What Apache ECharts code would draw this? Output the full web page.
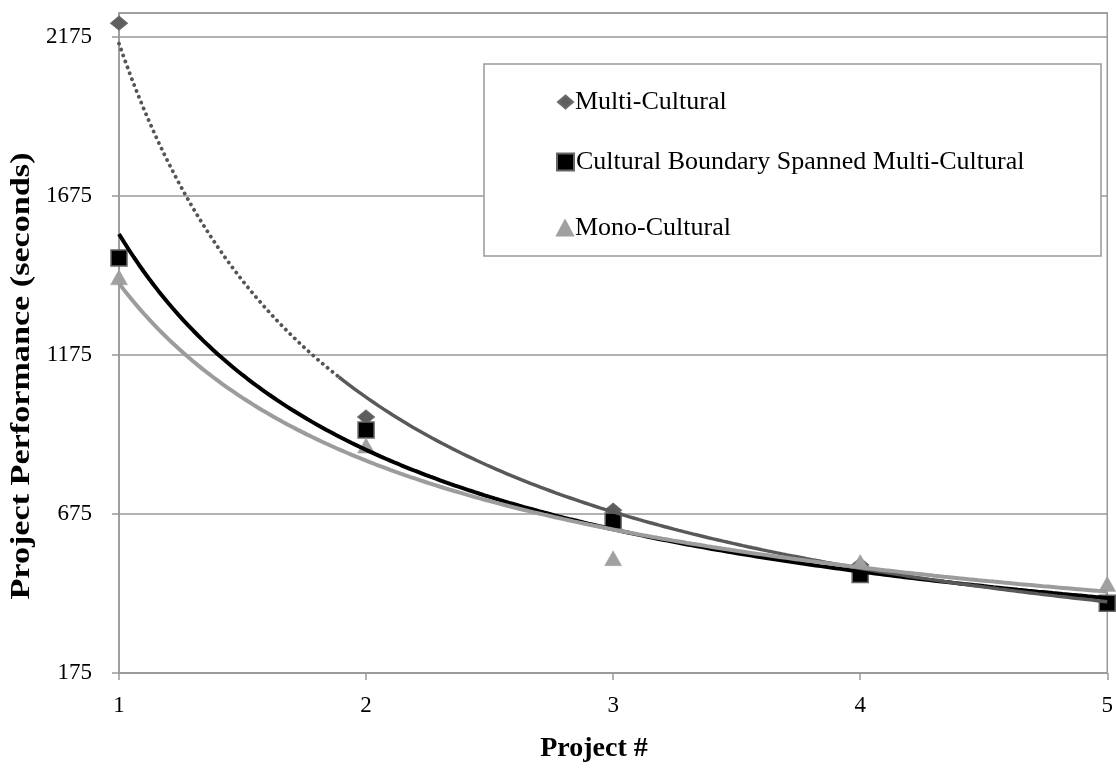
<!DOCTYPE html>
<html><head><meta charset="utf-8">
<script src="https://cdn.jsdelivr.net/npm/echarts@6/dist/echarts.min.js"></script>
<style>html,body{margin:0;padding:0;background:#fff}#c{width:1116px;height:768px}</style>
</head><body><div id="c"></div>
<script>
// ---- data ----
const projects = [1, 2, 3, 4, 5];
const multiCultural = [2218, 980, 687, 515, 400];
const boundarySpanned = [1480, 939, 653, 485, 394];
const monoCultural = [1419, 890, 536, 524, 455];
const yTicks = [175, 675, 1175, 1675, 2175];
const seriesNames = ['Multi-Cultural', 'Cultural Boundary Spanned Multi-Cultural', 'Mono-Cultural'];
const multiDottedEnd = 1.89; // x where the Multi-Cultural trendline turns from dotted to solid

// power trendline (least squares on ln-ln), as Excel does
function powerFit(xs, ys) {
  const lx = xs.map(Math.log), ly = ys.map(Math.log);
  const n = xs.length;
  const mx = lx.reduce((a, b) => a + b, 0) / n, my = ly.reduce((a, b) => a + b, 0) / n;
  let sxy = 0, sxx = 0;
  for (let i = 0; i < n; i++) { sxy += (lx[i] - mx) * (ly[i] - my); sxx += (lx[i] - mx) ** 2; }
  const b = sxy / sxx, a = Math.exp(my - b * mx);
  return x => a * Math.pow(x, b);
}
function sampleFit(f, x0, x1) {
  const pts = [];
  const steps = Math.max(2, Math.round((x1 - x0) / 0.02));
  for (let i = 0; i <= steps; i++) { const x = x0 + (x1 - x0) * i / steps; pts.push([x, f(x)]); }
  return pts;
}
const fMulti = powerFit(projects, multiCultural);
const fBound = powerFit(projects, boundarySpanned);
const fMono = powerFit(projects, monoCultural);
const xMin = projects[0], xMax = projects[projects.length - 1];

const FONT = '"Liberation Serif", "Times New Roman", serif';
const pairs = ys => projects.map((x, i) => [x, ys[i]]);

const chart = echarts.init(document.getElementById('c'), null, { renderer: 'canvas' });
chart.setOption({
  animation: false,
  backgroundColor: '#fff',
  grid: { left: 119, right: 8, top: 13, bottom: 95, show: true, borderColor: '#999', borderWidth: 1.5, backgroundColor: 'transparent' },
  xAxis: {
    type: 'value', min: xMin, max: xMax, interval: 1,
    axisLine: { show: true, lineStyle: { color: '#999', width: 1.5 } },
    axisTick: { show: true, length: 7, lineStyle: { color: '#999', width: 1.5 } },
    splitLine: { show: false },
    axisLabel: { color: '#000', fontFamily: FONT, fontSize: 23, margin: 21 }
  },
  yAxis: {
    type: 'value', min: yTicks[0], max: 2250, interval: yTicks[1] - yTicks[0],
    axisLine: { show: true, lineStyle: { color: '#999', width: 1.5 } },
    axisTick: { show: true, length: 7, lineStyle: { color: '#999', width: 1.5 } },
    splitLine: { show: true, lineStyle: { color: '#999', width: 1.5 } },
    axisLabel: { color: '#000', fontFamily: FONT, fontSize: 23, margin: 27, showMaxLabel: false,
      formatter: v => String(v) }
  },
  legend: [
    { data: [{ name: seriesNames[0], icon: 'diamond' }], left: 552, top: 84, itemWidth: 15, itemHeight: 13, itemGap: 0,
      textStyle: { fontFamily: FONT, fontSize: 26, color: '#000', padding: [0, 0, 0, -3] }, z: 60, selectedMode: false },
    { data: [{ name: seriesNames[1], icon: 'rect' }], left: 551, top: 144, itemWidth: 17, itemHeight: 17, itemGap: 0,
      textStyle: { fontFamily: FONT, fontSize: 26, color: '#000', padding: [0, 0, 0, -3] }, z: 60, selectedMode: false },
    { data: [{ name: seriesNames[2], icon: 'triangle' }], left: 551, top: 210, itemWidth: 16, itemHeight: 15, itemGap: 0,
      textStyle: { fontFamily: FONT, fontSize: 26, color: '#000', padding: [0, 0, 0, -3] }, z: 60, selectedMode: false }
  ],
  graphic: [
    { type: 'rect', z: 50, shape: { x: 484, y: 64, width: 617, height: 192 }, style: { fill: '#fff', stroke: '#999', lineWidth: 1.5 } },
    { type: 'text', z: 50, x: 22, y: 376, rotation: Math.PI / 2, scaleX: 1.22,
      style: { text: 'Project Performance (seconds)', fontFamily: FONT, fontWeight: 'bold', fontSize: 28, fill: '#000', align: 'center', verticalAlign: 'middle' } },
    { type: 'text', z: 50, x: 594, y: 749,
      style: { text: 'Project #', fontFamily: FONT, fontWeight: 'bold', fontSize: 28, fill: '#000', align: 'center', verticalAlign: 'middle' } }
  ],
  series: [
    { name: seriesNames[0], type: 'scatter', data: pairs(multiCultural), symbol: 'diamond', symbolSize: [17, 14], z: 3,
      itemStyle: { color: '#5e5e5e', borderColor: '#6a6a6a', borderWidth: 1, opacity: 1 } },
    { name: seriesNames[1], type: 'scatter', data: pairs(boundarySpanned), symbol: 'rect', symbolSize: 16, z: 3,
      itemStyle: { color: '#000', borderColor: '#666', borderWidth: 1.5, opacity: 1 } },
    { name: seriesNames[2], type: 'scatter', data: pairs(monoCultural), symbol: 'triangle', symbolSize: [17, 15], z: 3,
      itemStyle: { color: '#a0a0a0', borderColor: '#a0a0a0', borderWidth: 0.5, opacity: 1 } },
    { name: 'trend-bound', type: 'line', data: sampleFit(fBound, xMin, xMax), showSymbol: false, silent: true, z: 4,
      lineStyle: { color: '#000', width: 4 } },
    { name: 'trend-multi-dotted', type: 'line', data: sampleFit(fMulti, xMin, multiDottedEnd), showSymbol: false, silent: true, z: 5,
      lineStyle: { color: '#555', width: 3.8, type: [0.1, 6.2], cap: 'round' } },
    { name: 'trend-multi', type: 'line', data: sampleFit(fMulti, multiDottedEnd, xMax), showSymbol: false, silent: true, z: 5,
      lineStyle: { color: '#595959', width: 3.5 } },
    { name: 'trend-mono', type: 'line', data: sampleFit(fMono, xMin, xMax), showSymbol: false, silent: true, z: 6,
      lineStyle: { color: '#9c9c9c', width: 4 } }
  ]
});
</script>
</body></html>
